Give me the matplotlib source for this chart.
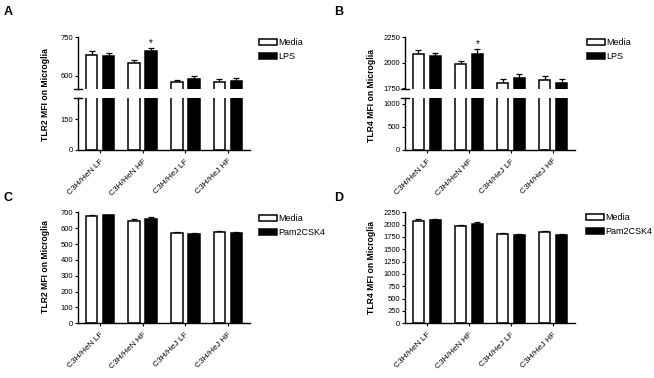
import numpy as np
import matplotlib
matplotlib.use("Agg")
import matplotlib.pyplot as plt
from matplotlib.patches import Patch

plt.rcParams['font.family'] = ['Liberation Sans', 'DejaVu Sans']

grupos = ["C3H/HeN LF", "C3H/HeN HF", "C3H/HeJ LF", "C3H/HeJ HF"]

# Panel A: TLR2, Media vs LPS
a_media = [680, 648, 574, 577]
a_media_err = [15, 14, 8, 10]
a_lps = [678, 697, 588, 580]
a_lps_err = [10, 10, 12, 12]

# Panel B: TLR4, Media vs LPS
b_media = [2081, 1986, 1806, 1837]
b_media_err = [39, 33, 39, 36]
b_lps = [2067, 2081, 1853, 1806]
b_lps_err = [26, 52, 39, 39]

# Panel C: TLR2, Media vs Pam2CSK4
c_media = [677, 647, 572, 576]
c_media_err = [8, 10, 5, 8]
c_pam = [681, 656, 566, 570]
c_pam_err = [5, 12, 4, 8]

# Panel D: TLR4, Media vs Pam2CSK4
d_media = [2081, 1978, 1803, 1844]
d_media_err = [25, 20, 25, 25]
d_pam = [2100, 2019, 1797, 1790]
d_pam_err = [15, 40, 15, 25]

W, H = 654, 378
fig = plt.figure(figsize=(W / 100, H / 100), dpi=100)


def caja(x0, x1, y_top, y_bot):
    """rect en pixeles (desde arriba) -> fracciones de figura"""
    return [x0 / W, 1 - y_bot / H, (x1 - x0) / W, (y_bot - y_top) / H]


def dibujar_barras(ax, media, media_err, trat, trat_err):
    x = np.arange(len(grupos))
    ancho = 0.27
    kw = dict(edgecolor='black', linewidth=1.1, zorder=2)
    ax.bar(x - 0.2, media, ancho, color='white', **kw)
    ax.bar(x + 0.2, trat, ancho, color='black', **kw)
    ekw = dict(fmt='none', ecolor='black', elinewidth=0.9,
               capsize=2.5, capthick=0.9, zorder=1)
    ax.errorbar(x - 0.2, media, yerr=[np.zeros(4), media_err], **ekw)
    ax.errorbar(x + 0.2, trat, yerr=[np.zeros(4), trat_err], **ekw)
    ax.set_xlim(-0.52, 3.52)
    for s in ['top', 'right']:
        ax.spines[s].set_visible(False)
    for s in ['left', 'bottom']:
        ax.spines[s].set_linewidth(1.0)
    ax.tick_params(axis='both', length=2.5, width=0.8, labelsize=5.5,
                   pad=1)


def etiquetas_x(ax):
    ax.set_xticks(np.arange(len(grupos)))
    ax.set_xticklabels(grupos, rotation=45, ha='right',
                       rotation_mode='anchor', fontsize=6)
    ax.tick_params(axis='x', pad=3)


def marca_corte(ax, y):
    ax.plot([-0.022, 0.022], [y, y], transform=ax.transAxes,
            color='black', linewidth=1.0, clip_on=False)


def panel_cortado(x0, x1, rango_sup, ticks_sup, rango_inf, ticks_inf,
                  media, media_err, trat, trat_err, ylabel):
    ax_sup = fig.add_axes(caja(x0, x1, 37, 88.5))
    ax_inf = fig.add_axes(caja(x0, x1, 97.5, 150))
    for ax in (ax_sup, ax_inf):
        dibujar_barras(ax, media, media_err, trat, trat_err)
    ax_sup.set_ylim(*rango_sup)
    ax_sup.set_yticks(ticks_sup)
    ax_sup.spines['bottom'].set_visible(False)
    ax_sup.set_xticks([])
    ax_inf.set_ylim(*rango_inf)
    ax_inf.set_yticks(ticks_inf)
    etiquetas_x(ax_inf)
    marca_corte(ax_sup, 0)
    marca_corte(ax_inf, 1)
    # asterisco sobre el grupo HF tratado
    ax_sup.text(1.2, trat[1] + trat_err[1], "*", ha='center',
                va='bottom', fontsize=7)
    fig.text((x0 - 33) / W, 1 - 95 / H, ylabel, rotation=90,
             ha='center', va='center', fontsize=6.2, fontweight='bold')
    return ax_sup


def panel_simple(x0, x1, rango, ticks, media, media_err, trat, trat_err,
                 ylabel):
    ax = fig.add_axes(caja(x0, x1, 212.3, 323.3))
    dibujar_barras(ax, media, media_err, trat, trat_err)
    ax.set_ylim(*rango)
    ax.set_yticks(ticks)
    etiquetas_x(ax)
    fig.text((x0 - 33) / W, 1 - 267 / H, ylabel, rotation=90,
             ha='center', va='center', fontsize=6.2, fontweight='bold')
    return ax


def leyenda(ax, x, y, nombre_trat):
    handles = [Patch(facecolor='white', edgecolor='black', linewidth=1.1),
               Patch(facecolor='black', edgecolor='black', linewidth=1.1)]
    ax.legend(handles, ["Media", nombre_trat], loc='upper left',
              bbox_to_anchor=(x / W, 1 - y / H),
              bbox_transform=fig.transFigure, frameon=False,
              fontsize=6.5, borderpad=0, borderaxespad=0,
              handlelength=2.0, handleheight=0.75, handletextpad=0.15,
              labelspacing=0.55)


ax_a = panel_cortado(78, 250, (550, 750), [600, 750], (0, 255), [0, 150],
                     a_media, a_media_err, a_lps, a_lps_err,
                     "TLR2 MFI on Microglia")
ax_b = panel_cortado(405, 575, (1750, 2250), [1750, 2000, 2250],
                     (0, 1140), [0, 500, 1000],
                     b_media, b_media_err, b_lps, b_lps_err,
                     "TLR4 MFI on Microglia")
ax_c = panel_simple(78, 250, (0, 700), np.arange(0, 701, 100),
                    c_media, c_media_err, c_pam, c_pam_err,
                    "TLR2 MFI on Microglia")
ax_d = panel_simple(405, 575, (0, 2250), np.arange(0, 2251, 250),
                    d_media, d_media_err, d_pam, d_pam_err,
                    "TLR4 MFI on Microglia")

leyenda(ax_a, 259, 38, "LPS")
leyenda(ax_b, 587, 38, "LPS")
leyenda(ax_c, 259, 214, "Pam2CSK4")
leyenda(ax_d, 586, 213, "Pam2CSK4")

for letra, x, y in [("A", 4, 6), ("B", 334, 6), ("C", 4, 192),
                    ("D", 334, 192)]:
    fig.text(x / W, 1 - y / H, letra, ha='left', va='top',
             fontsize=9, fontweight='bold')

fig.savefig("out.png", dpi=100)
